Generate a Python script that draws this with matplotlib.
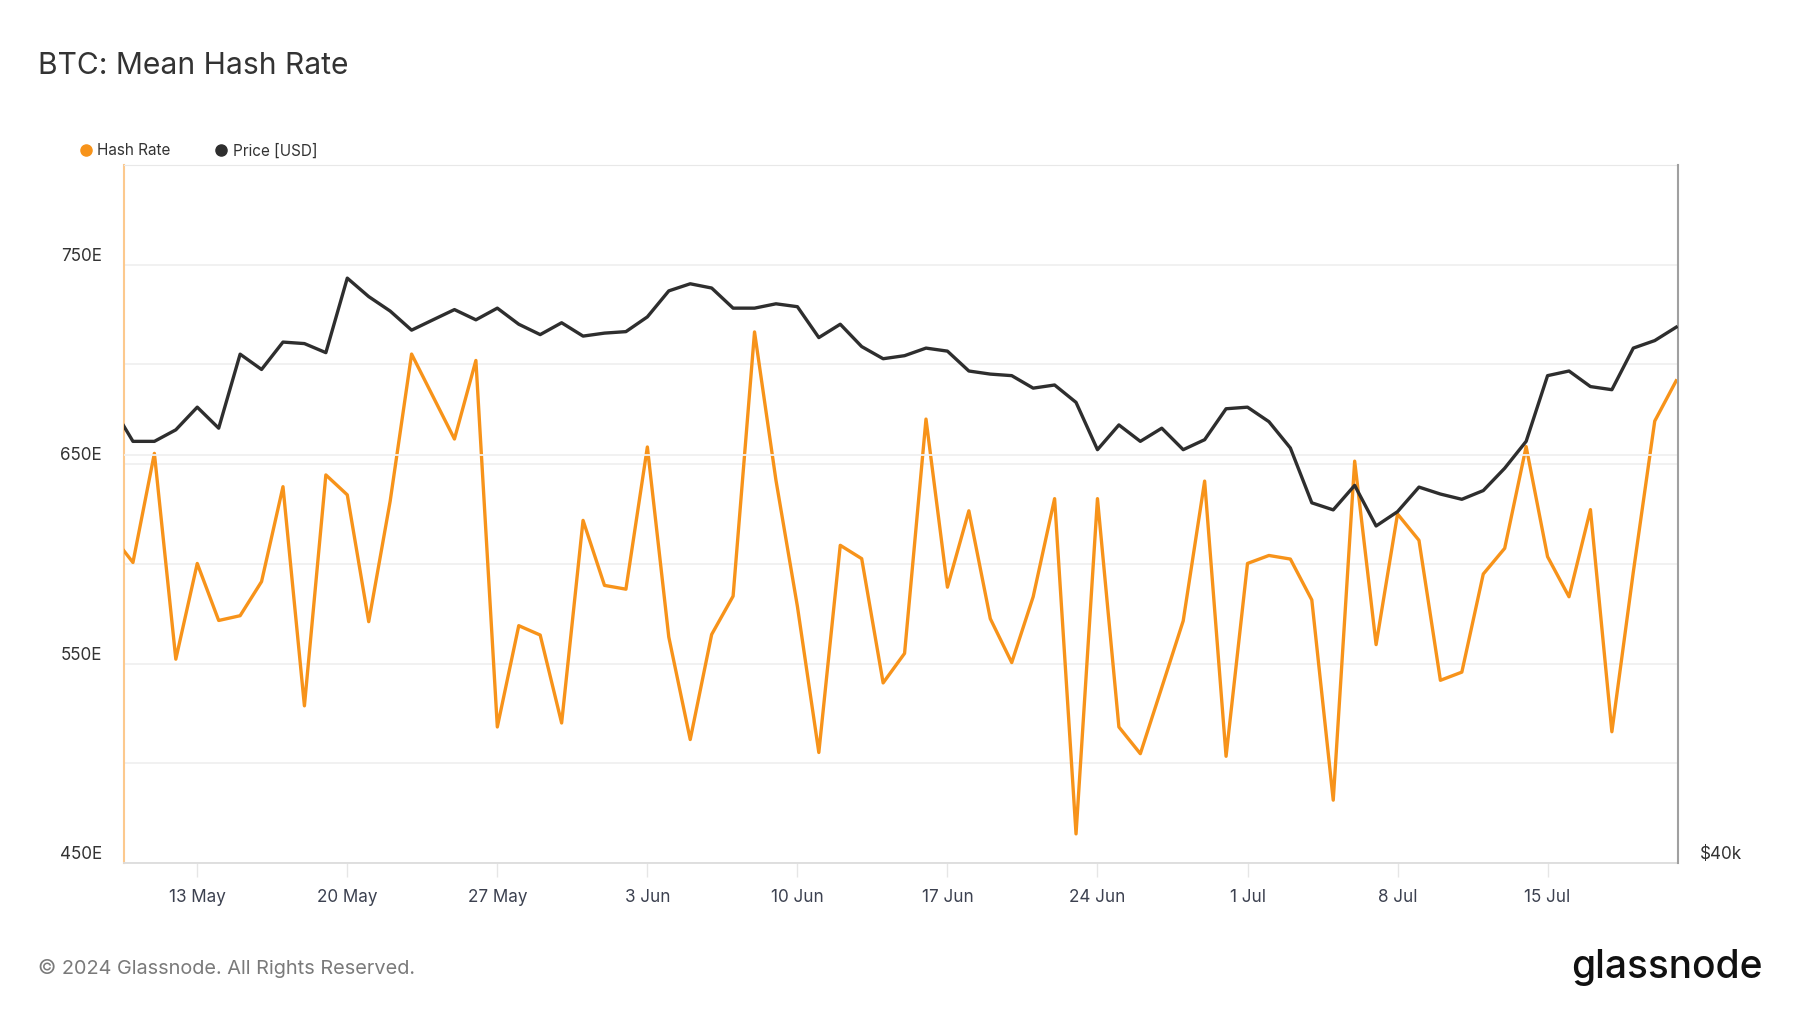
import numpy as np
import pandas as pd
import matplotlib
matplotlib.use('Agg')
import matplotlib.pyplot as plt
from matplotlib.lines import Line2D
from matplotlib.ticker import NullLocator

plt.rcParams['font.family'] = ['Inter', 'DejaVu Sans']

# daily values, 9 May 2024 .. 21 Jul 2024
dates = pd.date_range('2024-05-09', '2024-07-21', freq='D')

hash_rate = [
    614.5, 600.7, 655.4, 552.2, 600.2, 571.6, 574.0, 591.1, 638.7, 528.8,
    644.6, 634.6, 571.0, 631.4, 705.2, 683.9, 662.6, 702.0, 518.2, 569.0,
    564.3, 520.2, 621.8,
    589.2, 587.3, 658.6, 563.3, 511.9, 564.6, 583.8, 716.3, 641.9, 578.7,
    505.4, 609.3, 602.6, 540.3, 555.1, 672.6, 588.3, 626.6, 572.5, 550.5,
    583.5, 632.7, 464.6, 632.7, 518.2, 504.8, 538.0, 571.4, 641.5, 503.5,
    600.2, 604.2, 602.4, 581.9, 481.5, 651.5, 559.5, 625.0, 611.8, 541.6,
    545.7, 594.9, 607.8, 658.8, 603.6, 583.5, 627.2, 515.8, 595.9, 671.6,
    691.8,
]

price_k = [
    63.0, 60.8, 60.8, 61.5, 62.9, 61.6, 66.3, 65.3, 67.1, 67.0,
    66.4, 71.5, 70.2, 69.2, 67.9, 68.6, 69.3, 68.6, 69.4, 68.3,
    67.6, 68.4, 67.5,
    67.7, 67.8, 68.8, 70.6, 71.1, 70.8, 69.4, 69.4, 69.7, 69.5,
    67.4, 68.3, 66.8, 66.0, 66.2, 66.7, 66.5, 65.2, 65.0, 64.9,
    64.1, 64.3, 63.2, 60.3, 61.8, 60.8, 61.6, 60.3, 60.9, 62.8,
    62.9, 62.0, 60.4, 57.2, 56.8, 58.2, 55.9, 56.7, 58.1, 57.7,
    57.4, 57.9, 59.2, 60.8, 64.9, 65.2, 64.2, 64.0, 66.7, 67.2,
    68.1,
]
price = np.array(price_k) * 1000

hash_ticks = [450, 550, 650, 750]
hash_ticklabels = ['450E', '550E', '650E', '750E']
date_ticks = pd.date_range('2024-05-13', '2024-07-15', freq='7D')
date_ticklabels = [f"{d.day} {d.strftime('%b')}" for d in date_ticks]

orange = '#f7931a'
dark = '#2e2e2e'
grid_c = '#f0f0f0'

fig = plt.figure(figsize=(18, 10.13), dpi=100)
ax = fig.add_axes([0.0689, 0.1481, 0.8633, 0.689])
ax2 = ax.twinx()

ax.plot(dates, hash_rate, color=orange, lw=2.4, zorder=3)
ax2.plot(dates, price, color=dark, lw=2.4, zorder=3)

# hash rate axis
ax.set_ylim(450, 800)
ax.set_yticks(hash_ticks)
ax.set_yticklabels(hash_ticklabels)
ax.set_yticks([500, 600, 700], minor=True)
ax.grid(axis='y', which='both', color=grid_c, lw=1.3)
ax.tick_params(axis='y', which='both', length=0, pad=16, labelsize=12.3, labelcolor='#333333')
for lab in ax.get_yticklabels():
    lab.set_va('bottom')

# price axis (log)
ax2.set_yscale('log')
ax2.set_ylim(40000, 80000)
ax2.yaxis.set_minor_locator(NullLocator())
ax2.set_yticks([40000])
ax2.set_yticklabels(['$40k'])
ax2.axhline(60000, color=grid_c, lw=1.3, zorder=0)
ax2.tick_params(axis='y', which='both', length=0, pad=16, labelsize=12.3, labelcolor='#333333')
for lab in ax2.get_yticklabels():
    lab.set_va('bottom')

# x axis
ax.set_xlim(pd.Timestamp('2024-05-09') + pd.Timedelta(hours=14),
            pd.Timestamp('2024-07-21') + pd.Timedelta(hours=2))
ax.set_xticks(date_ticks)
ax.set_xticklabels(date_ticklabels)
ax.tick_params(axis='x', length=10, width=1, color='#e6e6e6', pad=9,
               labelsize=12.3, labelcolor='#3c4150')

# spines
ax.spines['left'].set_color('#fcc98e')
ax.spines['left'].set_linewidth(1.5)
ax.spines['right'].set_visible(False)
ax.spines['top'].set_color('#e8e8e8')
ax.spines['bottom'].set_color('#dcdcdc')
ax.spines['bottom'].set_linewidth(1.3)
for s in ['left', 'top', 'bottom']:
    ax2.spines[s].set_visible(False)
ax2.spines['right'].set_color('#a0a0a0')
ax2.spines['right'].set_linewidth(1.5)

# title, legend, footer
fig.text(0.0211, 0.935, 'BTC: Mean Hash Rate', fontsize=21.6, color='#333333',
         va='center', ha='left')

handles = [Line2D([], [], ls='', marker='o', ms=8, color=orange),
           Line2D([], [], ls='', marker='o', ms=8, color=dark)]
fig.legend(handles, ['Hash Rate', 'Price [USD]'], loc='center left',
           bbox_to_anchor=(0.0443, 0.8513), ncol=2, frameon=False,
           fontsize=11, labelcolor='#333333', handlelength=0.8,
           handletextpad=0.35, columnspacing=2.9, borderaxespad=0, borderpad=0)

fig.text(0.0211, 0.0437, '\u00a9 2024 Glassnode. All Rights Reserved.',
         fontsize=14.35, color='#7a7a7a', va='center', ha='left')
fig.text(0.979, 0.0345, 'glassnode', fontsize=28, fontweight='medium',
         color='#111111', va='baseline', ha='right')

fig.savefig('out.png', dpi=100)
